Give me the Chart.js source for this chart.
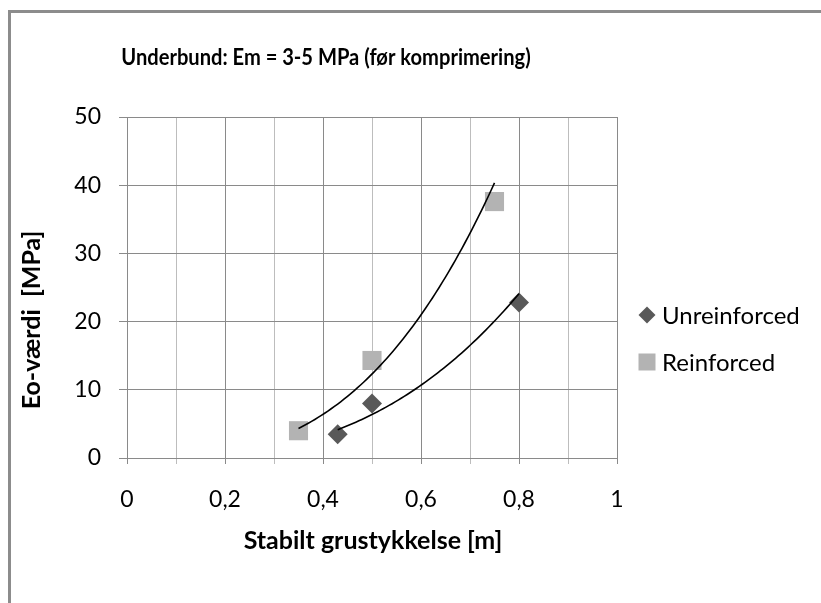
<!DOCTYPE html>
<html>
<head>
<meta charset="utf-8">
<title>Underbund: Em = 3-5 MPa</title>
<script src="https://cdn.jsdelivr.net/npm/chart.js@4.4.1/dist/chart.umd.min.js"></script>
<style>
  html, body { margin: 0; padding: 0; background: #fff; }
  canvas { display: block; }
</style>
</head>
<body>
<canvas id="eoChart" width="821" height="603"></canvas>
<script>
(function () {
  'use strict';

  // measured values
  const unreinforcedX = [0.43, 0.5, 0.8];
  const unreinforcedY = [3.5, 8, 22.8];
  const reinforcedX = [0.35, 0.5, 0.75];
  const reinforcedY = [4, 14.3, 37.6];
  const seriesNames = ['Unreinforced', 'Reinforced'];

  const xRange = [0, 1];
  const yRange = [0, 50];

  const chartTitle = 'Underbund: Em = 3-5 MPa (før komprimering)';
  const xTitle = 'Stabilt grustykkelse [m]';
  const yTitle = 'Eo-værdi  [MPa]';

  const FONT = 'Lato, "Liberation Sans", sans-serif';
  const GRID_MAJOR = '#8a8a8a';
  const GRID_MINOR = '#bdbdbd';
  const DARK = '#595959';
  const LIGHT = '#b3b3b3';

  function pairs(xs, ys) {
    return xs.map((x, i) => ({ x: x, y: ys[i] }));
  }

  // power trendline y = a * x^b, least squares on logs
  function powerFit(xs, ys) {
    const lx = xs.map(Math.log);
    const ly = ys.map(Math.log);
    const n = xs.length;
    const mx = lx.reduce((s, v) => s + v, 0) / n;
    const my = ly.reduce((s, v) => s + v, 0) / n;
    let sxx = 0, sxy = 0;
    for (let i = 0; i < n; i++) {
      sxx += (lx[i] - mx) * (lx[i] - mx);
      sxy += (lx[i] - mx) * (ly[i] - my);
    }
    const b = sxy / sxx;
    const a = Math.exp(my - b * mx);
    return (x) => a * Math.pow(x, b);
  }

  const trends = [
    { xs: unreinforcedX, fn: powerFit(unreinforcedX, unreinforcedY) },
    { xs: reinforcedX, fn: powerFit(reinforcedX, reinforcedY) }
  ];

  function isMajor(v) {
    return Math.round(v * 10) % 2 === 0;
  }

  const decor = {
    id: 'decor',
    beforeDraw(chart) {
      const ctx = chart.ctx;
      ctx.save();
      ctx.fillStyle = '#fff';
      ctx.fillRect(0, 0, chart.width, chart.height);
      // frame around the chart object (left and top edges show)
      ctx.strokeStyle = '#8c8c8c';
      ctx.lineWidth = 3;
      ctx.beginPath();
      ctx.moveTo(9.5, chart.height + 2);
      ctx.lineTo(9.5, 11.5);
      ctx.lineTo(chart.width + 2, 11.5);
      ctx.stroke();
      ctx.restore();
    },
    afterDatasetsDraw(chart) {
      const ctx = chart.ctx;
      const xs = chart.scales.x;
      const ys = chart.scales.y;
      ctx.save();
      ctx.strokeStyle = '#000';
      ctx.lineWidth = 1.6;
      trends.forEach((t) => {
        const x0 = Math.min.apply(null, t.xs);
        const x1 = Math.max.apply(null, t.xs);
        const steps = 60;
        ctx.beginPath();
        for (let i = 0; i <= steps; i++) {
          const x = x0 + (x1 - x0) * i / steps;
          const px = xs.getPixelForValue(x);
          const py = ys.getPixelForValue(t.fn(x));
          if (i === 0) ctx.moveTo(px, py); else ctx.lineTo(px, py);
        }
        ctx.stroke();
      });
      ctx.restore();
    },
    afterDraw(chart) {
      const ctx = chart.ctx;
      const area = chart.chartArea;
      ctx.save();
      ctx.fillStyle = '#000';
      ctx.textBaseline = 'middle';
      ctx.textAlign = 'center';

      // title set a little condensed
      ctx.save();
      ctx.font = 'bold 23px ' + FONT;
      ctx.translate(326, 58);
      ctx.scale(0.875, 1);
      ctx.fillText(chartTitle, 0, 0);
      ctx.restore();

      ctx.font = 'bold 25px ' + FONT;
      ctx.fillText(xTitle, 373, 541);

      ctx.save();
      ctx.translate(32, 320);
      ctx.rotate(-Math.PI / 2);
      ctx.fillText(yTitle, 0, 0);
      ctx.restore();

      // legend
      const lx = area.right + 30;
      const rows = [315, 362];
      ctx.font = '24px ' + FONT;
      ctx.textAlign = 'left';
      seriesNames.forEach((name, i) => {
        const cy = rows[i];
        const ds = chart.data.datasets[i];
        ctx.fillStyle = ds.backgroundColor;
        ctx.beginPath();
        if (ds.pointStyle === 'rectRot') {
          const r = 8.5;
          ctx.moveTo(lx, cy - r);
          ctx.lineTo(lx + r, cy);
          ctx.lineTo(lx, cy + r);
          ctx.lineTo(lx - r, cy);
          ctx.closePath();
        } else {
          ctx.rect(lx - 8.5, cy - 8.5, 17, 17);
        }
        ctx.fill();
        ctx.fillStyle = '#000';
        ctx.fillText(name, lx + 15, cy + 1);
      });
      ctx.restore();
    }
  };

  new Chart(document.getElementById('eoChart'), {
    type: 'scatter',
    data: {
      datasets: [
        {
          label: seriesNames[0],
          data: pairs(unreinforcedX, unreinforcedY),
          pointStyle: 'rectRot',
          pointRadius: 10,
          pointHoverRadius: 10,
          backgroundColor: DARK,
          borderWidth: 0
        },
        {
          label: seriesNames[1],
          data: pairs(reinforcedX, reinforcedY),
          pointStyle: 'rect',
          pointRadius: 13.5,
          pointHoverRadius: 13.5,
          backgroundColor: LIGHT,
          borderWidth: 0
        }
      ]
    },
    options: {
      responsive: false,
      animation: false,
      layout: { padding: { left: 67, top: 117, right: 204, bottom: 45 } },
      plugins: {
        legend: { display: false },
        title: { display: false },
        tooltip: { enabled: false }
      },
      scales: {
        x: {
          type: 'linear',
          min: xRange[0],
          max: xRange[1],
          afterFit: (s) => { s.height = 100; },
          border: { color: GRID_MAJOR, width: 1 },
          grid: {
            color: (c) => isMajor(c.tick.value) ? GRID_MAJOR : GRID_MINOR,
            tickLength: 6,
            lineWidth: 1
          },
          ticks: {
            stepSize: 0.1,
            autoSkip: false,
            maxRotation: 0,
            padding: 22,
            color: '#000',
            font: { family: FONT, size: 23 },
            callback: (v) => isMajor(v) ? String(Math.round(v * 10) / 10).replace('.', ',') : ''
          }
        },
        y: {
          type: 'linear',
          min: yRange[0],
          max: yRange[1],
          afterFit: (s) => { s.width = 60; },
          border: { color: GRID_MAJOR, width: 1 },
          grid: { color: GRID_MAJOR, tickLength: 8, lineWidth: 1 },
          ticks: {
            stepSize: 10,
            padding: 18,
            color: '#000',
            font: { family: FONT, size: 23 }
          }
        }
      }
    },
    plugins: [decor]
  });
})();
</script>
</body>
</html>
